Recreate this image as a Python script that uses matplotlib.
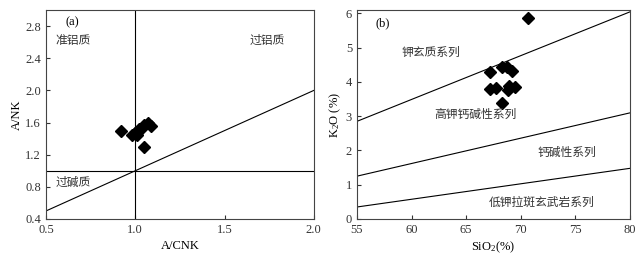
import matplotlib
matplotlib.use("Agg")
import matplotlib.pyplot as plt

plt.rcParams["font.family"] = ["Liberation Serif", "Noto Sans CJK SC"]
plt.rcParams["axes.linewidth"] = 0.8

# (a) A/CNK - A/NK
acnk = [0.92, 0.98, 1.00, 1.02, 1.05, 1.07, 1.09, 1.05, 1.04, 1.01]
anK = [1.49, 1.44, 1.47, 1.52, 1.29, 1.60, 1.56, 1.57, 1.53, 1.45]

# (b) SiO2 - K2O
sio2 = [70.7, 68.3, 68.7, 69.2, 67.2, 67.2, 67.7, 68.8, 68.9, 69.5, 68.3]
k2o = [5.88, 4.45, 4.43, 4.31, 4.28, 3.80, 3.83, 3.76, 3.87, 3.85, 3.38]

# boundary lines in (b): K2O at SiO2 = 55 and 80
bnd_x = [55, 80]
bnd_sho = [2.85, 6.05]
bnd_hk = [1.25, 3.10]
bnd_ca = [0.35, 1.48]

cjk = ["Noto Sans CJK SC", "DejaVu Sans"]
fs_cn = 8.5
fs = 9

fig = plt.figure(figsize=(6.43, 2.65), dpi=100)
ax1 = fig.add_axes([0.0715, 0.1736, 0.4165, 0.7884])
ax2 = fig.add_axes([0.555, 0.1736, 0.425, 0.7884])

# ---- panel a ----
ax1.axvline(1.0, color="black", lw=0.8)
ax1.axhline(1.0, color="black", lw=0.8)
ax1.plot([0.5, 2.0], [0.5, 2.0], color="black", lw=0.8)
ax1.plot(acnk, anK, "D", color="black", ms=6.5, mec="black")
ax1.set_xlim(0.5, 2.0)
ax1.set_ylim(0.4, 3.0)
ax1.set_xticks([0.5, 1.0, 1.5, 2.0])
ax1.set_xticklabels(["0.5", "1.0", "1.5", "2.0"])
ax1.set_yticks([0.4, 0.8, 1.2, 1.6, 2.0, 2.4, 2.8])
ax1.set_yticklabels(["0.4", "0.8", "1.2", "1.6", "2.0", "2.4", "2.8"])
ax1.set_xlabel("A/CNK", fontsize=fs, labelpad=3)
ax1.set_ylabel("A/NK", fontsize=fs, labelpad=2)
ax1.text(0.645, 2.85, "(a)", fontsize=fs, ha="center", va="center")
ax1.text(0.65, 2.62, "准铝质", fontsize=fs_cn, ha="center", va="center", family=cjk, color="#333333")
ax1.text(1.74, 2.62, "过铝质", fontsize=fs_cn, ha="center", va="center", family=cjk, color="#333333")
ax1.text(0.65, 0.85, "过碱质", fontsize=fs_cn, ha="center", va="center", family=cjk, color="#333333")

# ---- panel b ----
for yy in (bnd_sho, bnd_hk, bnd_ca):
    ax2.plot(bnd_x, yy, color="black", lw=0.8)
ax2.plot(sio2, k2o, "D", color="black", ms=6.5, mec="black", clip_on=False)
ax2.set_xlim(55, 80)
ax2.set_ylim(0, 6.1)
ax2.set_xticks([55, 60, 65, 70, 75, 80])
ax2.set_yticks([0, 1, 2, 3, 4, 5, 6])
ax2.set_xlabel("SiO$\\mathregular{_2}$(%)", fontsize=fs, labelpad=3)
ax2.set_ylabel("K$\\mathregular{_2}$O (%)", fontsize=fs, labelpad=2)
ax2.text(57.4, 5.7, "(b)", fontsize=fs, ha="center", va="center")
ax2.text(61.8, 4.85, "钾玄质系列", fontsize=fs_cn, ha="center", va="center", family=cjk, color="#333333")
ax2.text(65.8, 3.05, "高钾钙碱性系列", fontsize=fs_cn, ha="center", va="center", family=cjk, color="#333333")
ax2.text(74.2, 1.95, "钙碱性系列", fontsize=fs_cn, ha="center", va="center", family=cjk, color="#333333")
ax2.text(71.9, 0.5, "低钾拉斑玄武岩系列", fontsize=fs_cn, ha="center", va="center", family=cjk, color="#333333")

for ax in (ax1, ax2):
    ax.tick_params(direction="in", length=3, width=0.8, labelsize=fs, colors="#333333")
    for s in ax.spines.values():
        s.set_color("#444444")

fig.savefig("out.png", dpi=100)
